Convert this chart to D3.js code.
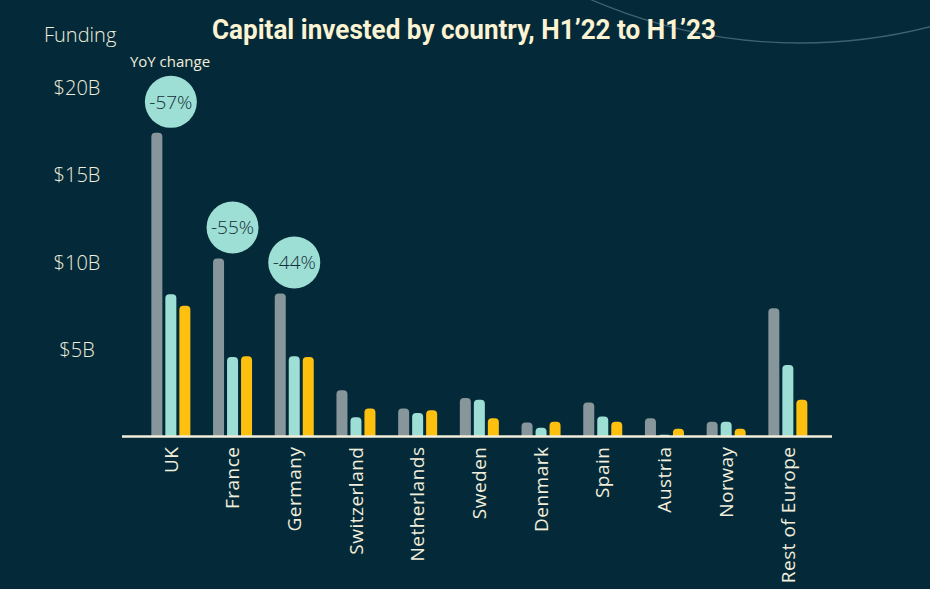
<!DOCTYPE html>
<html>
<head>
<meta charset="utf-8">
<script src="https://cdn.jsdelivr.net/npm/d3@7"></script>
<style>
  html, body { margin: 0; padding: 0; background: #042a3a; }
  svg { display: block; }
</style>
</head>
<body>
<svg id="chart" width="930" height="589"></svg>
<script>
const countries = ["UK","France","Germany","Switzerland","Netherlands","Sweden","Denmark","Spain","Austria","Norway","Rest of Europe"];
const seriesNames = ["H1’22","H2’22","H1’23"];
const h1_22 = [17.4, 10.2, 8.2, 2.65, 1.6, 2.2, 0.8, 1.95, 1.05, 0.85, 7.35];
const h2_22 = [8.15, 4.55, 4.6, 1.1, 1.35, 2.1, 0.5, 1.15, 0.1, 0.85, 4.1];
const h1_23 = [7.5, 4.6, 4.55, 1.6, 1.5, 1.05, 0.85, 0.85, 0.45, 0.45, 2.1];
const yoyCountries = ["UK","France","Germany"];
const yoyLabels = ["-57%","-55%","-44%"];
const yTicks = [5, 10, 15, 20];
const titleText = "Capital invested by country, H1’22 to H1’23";

const colors = {"H1’22": "#86969b", "H2’22": "#9ddfd4", "H1’23": "#fdc00f"};
const cream = "#f2eedb";

const svg = d3.select("#chart");
svg.append("rect").attr("width", 930).attr("height", 589).attr("fill", "#042a3a");

// decorative arc
svg.append("circle").attr("cx", 800).attr("cy", -482).attr("r", 525)
  .attr("fill", "none").attr("stroke", "#3f6170").attr("stroke-width", 1.3);

const x = d3.scaleBand().domain(countries).range([140, 818.7]).padding(0);
const xs = d3.scaleBand().domain(seriesNames).range([-19.5, 19.5]).paddingInner(3/14).paddingOuter(0);
const y = d3.scaleLinear().domain([0, 20]).range([436.5, 87.5]);

const table = countries.map((c, i) => ({country: c, values: [h1_22[i], h2_22[i], h1_23[i]]}));

function barPath(x0, w, yTop, yBase) {
  const h = yBase - yTop;
  const r = Math.min(4, h, w / 2);
  return `M${x0},${yBase} L${x0},${yTop + r} Q${x0},${yTop} ${x0 + r},${yTop} L${x0 + w - r},${yTop} Q${x0 + w},${yTop} ${x0 + w},${yTop + r} L${x0 + w},${yBase} Z`;
}

const groups = svg.append("g").selectAll("g").data(table).join("g")
  .attr("transform", d => `translate(${x(d.country) + x.bandwidth() / 2},0)`);
groups.selectAll("path").data(d => d.values.map((v, j) => ({s: seriesNames[j], v}))).join("path")
  .attr("d", d => barPath(xs(d.s), xs.bandwidth(), y(d.v), y(0)))
  .attr("fill", d => colors[d.s]);

// baseline
svg.append("line").attr("x1", 122).attr("x2", 832).attr("y1", y(0)).attr("y2", y(0))
  .attr("stroke", cream).attr("stroke-width", 2.5);

// x axis labels
const xAxis = svg.append("g").attr("transform", `translate(0,${y(0)})`)
  .call(d3.axisBottom(x).tickSize(0));
xAxis.select(".domain").remove();
xAxis.selectAll("text")
  .attr("transform", "rotate(-90)").attr("x", -10).attr("y", 0).attr("dy", "0.35em")
  .style("text-anchor", "end")
  .attr("fill", cream)
  .style("font-family", "'Open Sans', sans-serif").style("font-size", "19px")
  .style("font-weight", 400).style("letter-spacing", "0.5px");

// y axis labels
const yAxis = svg.append("g").attr("transform", "translate(77,0)")
  .call(d3.axisLeft(y).tickValues(yTicks).tickSize(0).tickFormat(d => `$${d}B`));
yAxis.select(".domain").remove();
yAxis.selectAll("text").attr("x", 0).attr("dy", "0.35em").style("text-anchor", "middle")
  .attr("fill", cream)
  .style("font-family", "'Open Sans', sans-serif").style("font-size", "20px").style("font-weight", 300);

// YoY bubbles
const bubbles = svg.append("g").selectAll("g").data(yoyCountries).join("g")
  .attr("transform", (c) => {
    const i = countries.indexOf(c);
    return `translate(${x(c) + x.bandwidth() / 2},${y(h1_22[i]) - 31})`;
  });
bubbles.append("circle").attr("r", 26).attr("fill", "#9ddfd4");
bubbles.append("text").text((c, i) => yoyLabels[i])
  .attr("text-anchor", "middle").attr("dy", "0.36em")
  .attr("fill", "#15303a")
  .style("font-family", "'Open Sans', sans-serif").style("font-size", "19px").style("font-weight", 300);

// titles
svg.append("text").attr("x", 212).attr("y", 39).text(titleText)
  .attr("fill", "#fbf3d2")
  .attr("textLength", 504).attr("lengthAdjust", "spacingAndGlyphs")
  .style("font-family", "Roboto, sans-serif").style("font-size", "27px").style("font-weight", 700);

svg.append("text").attr("x", 44).attr("y", 42).text("Funding")
  .attr("fill", cream)
  .style("font-family", "'Open Sans', sans-serif").style("font-size", "20px").style("font-weight", 300);

svg.append("text").attr("x", 170).attr("y", 67).text("YoY change")
  .attr("text-anchor", "middle")
  .attr("fill", cream)
  .style("font-family", "'Open Sans', sans-serif").style("font-size", "15px").style("font-weight", 400);
</script>
</body>
</html>
